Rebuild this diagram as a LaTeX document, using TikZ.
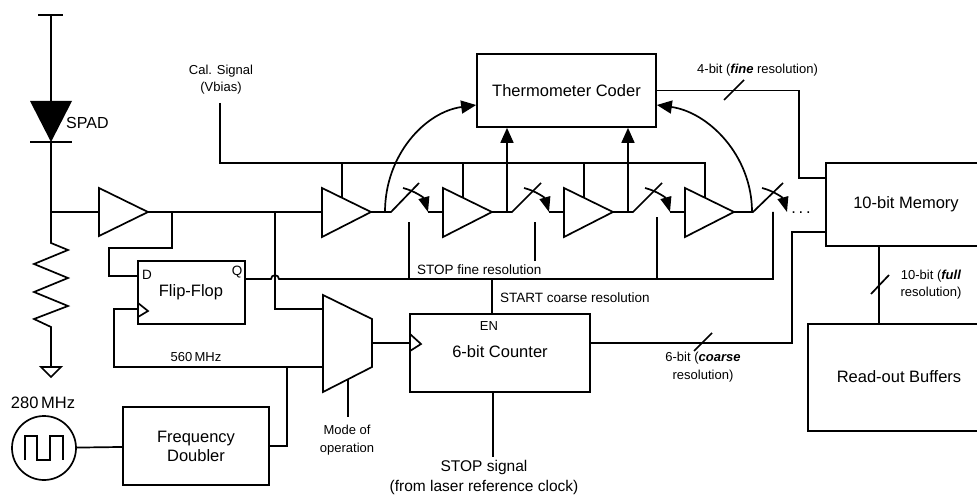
\documentclass[tikz,border=0pt]{standalone}
\usepackage{fontspec}
\setmainfont{Liberation Sans}
\usetikzlibrary{arrows.meta}
\newcommand{\ampat}[2]{%
  \coordinate (#1in) at (#2,212);
  \coordinate (#1out) at (#2+49,212);
  \draw[wire,fill=white] (#2,188) -- (#1out) -- (#2,237) -- cycle;
}
\tikzset{
  wire/.style={line width=1.7pt,line join=miter},
  box/.style={draw,line width=1.7pt,inner sep=0pt,font=\fontsize{16.5}{19}\selectfont,align=center},
  lab/.style={inner sep=0pt,font=\fontsize{16.5}{19}\selectfont,align=center},
  small/.style={inner sep=0pt,font=\fontsize{13.5}{17}\selectfont,align=center},
  tiny/.style={inner sep=0pt,font=\fontsize{13}{17.5}\selectfont,align=center},
  big/.style={-{Triangle[length=15pt,width=13pt]}},
  swarrow/.style={-{Triangle[length=15pt,width=11pt]}},
  tick/.style={line width=1.7pt},
}
\begin{document}
\begin{tikzpicture}[x=1pt,y=-1pt]
\clip (0,0) rectangle (977,497);
\fill[white] (0,0) rectangle (977,497);

% SPAD branch
\coordinate (vddl) at (38,15); \coordinate (vddr) at (63,15); \coordinate (vdd) at (51,15);
\coordinate (dtop) at (51,101); \coordinate (dbot) at (51,142);
\coordinate (jn) at (51,212); \coordinate (rtop) at (51,243); \coordinate (rbot) at (51,327);
\coordinate (gnd) at (51,367);
\draw[wire] (vddl) -- (vddr);
\draw[wire] (vdd) -- (dtop);
\fill (30,101) -- (72,101) -- (dbot) -- cycle;
\draw[wire] (30,142) -- (72,142);
\draw[wire] (dbot) -- (rtop) -- (68,250) -- (34,264) -- (68,278) -- (34,292) -- (68,306) -- (34,319) -- (rbot) -- (gnd);
\draw[wire] (41,367) -- (61,367) -- (51,377) -- cycle;
\node[small,font=\fontsize{16}{18}\selectfont,anchor=west] (spad) at (66,123) {SPAD};

% input buffer
\draw[wire] (jn) -- (99,212);
\draw[wire,fill=white] (99,188) -- (148,212) -- (99,236) -- cycle;
\coordinate (b0out) at (148,212);

% amplifiers
\ampat{a1}{322}
\ampat{a2}{443}
\ampat{a3}{564}
\ampat{a4}{685}

% Boxes
\node[box,minimum width=179,minimum height=73] (therm) at (566.5,90.5) {Thermometer Coder};
\node[box,minimum width=200,minimum height=83] (mem) at (926,204.5) {};
\node[lab] (memt) at (906,204) {10-bit Memory};
\node[box,minimum width=220,minimum height=107] (rob) at (918,377.5) {};
\node[lab] (robt) at (899,377) {Read-out Buffers};
\node[box,minimum width=180,minimum height=78] (cnt) at (500,353) {};
\node[lab] (cntt) at (500,352) {6-bit Counter};
\node[box,minimum width=107,minimum height=63] (ff) at (191.5,292.5) {};
\node[lab] (fft) at (191,292) {Flip-Flop};
\node[box,minimum width=146,minimum height=78] (dbl) at (196,446) {Frequency\\Doubler};
\node[draw,circle,line width=1.7pt,minimum size=64,inner sep=0pt] (src) at (44,448) {};

% pulse in the source
\draw[wire] (25,460) -- (25,436) -- (37,436) -- (37,460) -- (50,460) -- (50,436) -- (63,436) -- (63,460);
\draw[wire] (src) -- (dbl);

% main signal line
\draw[wire] (b0out) -- (a1in);
\coordinate (fbk) at (172,212);
\draw[wire] (fbk) -- (172,248) -- (109,248) -- (109,276) -- (ff.west |- 0,276);
\coordinate (tap) at (275,212);
\draw[wire] (tap) -- (275,309) -- (323,309);

% Flip-flop clock and labels
\draw[wire] (138,303) -- (148,311) -- (138,317);
\node[tiny,font=\fontsize{13.5}{16}\selectfont] (dl) at (147,275) {D};
\node[tiny,font=\fontsize{13.5}{16}\selectfont] (ql) at (237,272) {Q};

% Q line with jump
\coordinate (stopA) at (409,279);
\coordinate (stopB) at (535,279);
\coordinate (stopC) at (657,279);
\coordinate (stopD) at (773,279);
\draw[wire] (ff.east |- 0,279) -- (271,279) .. controls (271,274) and (279,274) .. (279,279) -- (stopD) -- (773,212);
\draw[wire] (stopA) -- (409,222);
\draw[wire] (535,261) -- (535,222);
\draw[wire] (stopC) -- (657,217);
\draw[wire] (492,279) -- (cnt.north -| 492,0);
\node[small,anchor=west] (stopfine) at (417,270) {STOP fine resolution};
\node[small,anchor=west] (startc) at (500,298) {START coarse resolution};

% Mux
\draw[wire,fill=white] (323,295) -- (372,319) -- (372,367) -- (323,392) -- cycle;
\coordinate (muxout) at (372,343);
\coordinate (muxin2) at (323,367);
\coordinate (muxsel) at (348,380);
\coordinate (modeend) at (348,417);
\draw[wire] (muxsel) -- (modeend);
\node[tiny] (mode) at (347,440) {Mode of\\operation};
\draw[wire] (muxout) -- (cnt.west |- 0,343);
\draw[wire] (410,334) -- (421,344) -- (410,351);

% Clock wires
\draw[wire] (ff.west |- 0,309) -- (114,309) -- (114,367) -- (muxin2);
\draw[wire] (287,367) -- (287,446) -- (dbl.east);
\node[tiny] (mhz560) at (196,357) {560\,MHz};
\node[lab] (mhz280) at (43,403) {280\,MHz};

% Counter labels and stop line
\node[tiny] (en) at (489,326) {EN};
\draw[wire] (cnt.south -| 493,0) -- (493,457);
\node[lab,font=\fontsize{15.5}{20}\selectfont] (stopsig) at (484,477) {STOP signal\\(from laser reference clock)};

% Cal rail
\node[tiny] (cal) at (221,79.5) {Cal. Signal\\(Vbias)};
\draw[wire] (220,103) -- (220,163) -- (705,163) -- (705,198);
\draw[wire] (342,163) -- (342,198);
\draw[wire] (463,163) -- (463,198);
\draw[wire] (584,163) -- (584,198);

% switches
\draw[wire] (a1out) -- (391,212) -- (419,183);
\draw[wire] (428,212) -- (a2in);
\draw[wire] (a2out) -- (512,212) -- (541,183);
\draw[wire] (549,212) -- (a3in);
\draw[wire] (a3out) -- (633,212) -- (662,183);
\draw[wire] (670,212) -- (a4in);
\draw[wire] (a4out) -- (753,212) -- (783,183);
\draw[wire,swarrow] (403,188) .. controls (415,191) and (424,198) .. (428,212);
\draw[wire,swarrow] (524,188) .. controls (536,191) and (545,198) .. (549,212);
\draw[wire,swarrow] (645,188) .. controls (657,191) and (666,198) .. (670,212);
\draw[wire,swarrow] (762,188) .. controls (774,191) and (783,198) .. (787,212);
\node[lab] (dots) at (801,213) {.\,.\,.};

% to the coder
\draw[wire,big] (385,212) .. controls (385,155) and (425,112) .. (therm.west |- 0,105);
\draw[wire,big] (752,212) .. controls (752,155) and (708,112) .. (therm.east |- 0,105);
\draw[wire,big] (507,212) -- (therm.south -| 507,0);
\draw[wire,big] (628,212) -- (therm.south -| 628,0);

% bus lines
\draw[wire] (therm.east) -- (799,90.5) -- (799,178) -- (mem.west |- 0,178);
\draw[tick] (724,100) -- (744,80);
\node[tiny,anchor=west] (fourbit) at (697,70) {4-bit (\textbf{\textit{fine}} resolution)};
\draw[wire] (cnt.east |- 0,343) -- (792,343) -- (792,232) -- (mem.west |- 0,232);
\draw[tick] (694,351) -- (712,333);
\node[tiny] (sixbit) at (703,367) {6-bit (\textbf{\textit{coarse}}\\resolution)};
\draw[wire] (mem.south -| 879,0) -- (rob.north -| 879,0);
\draw[tick] (871,294) -- (889,275);
\node[tiny] (tenbit) at (931,284.5) {10-bit (\textbf{\textit{full}}\\resolution)};
\end{tikzpicture}
\end{document}
